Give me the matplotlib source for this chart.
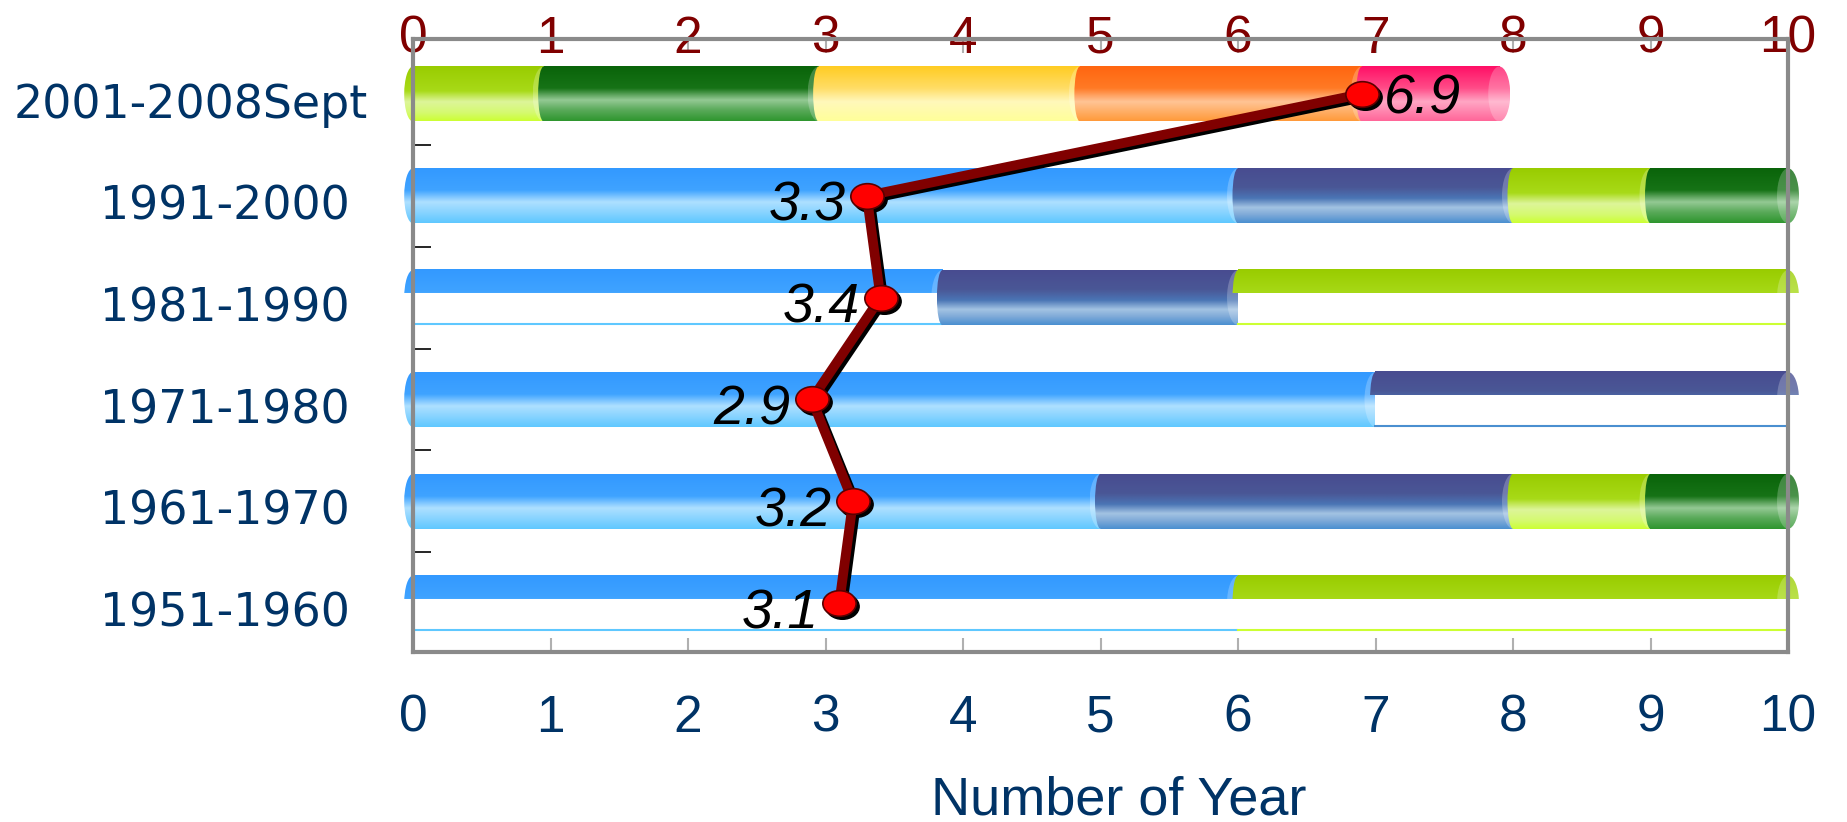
import numpy as np
import matplotlib.pyplot as plt
from matplotlib.colors import LinearSegmentedColormap
from matplotlib.patches import Ellipse, Rectangle
from matplotlib.path import Path
from matplotlib.transforms import Affine2D, ScaledTranslation, blended_transform_factory

plt.rcParams['font.family'] = ['Liberation Sans', 'DejaVu Sans']

# periods from bottom row to top row
periods = ['1951-1960', '1961-1970', '1971-1980', '1981-1990', '1991-2000', '2001-2008Sept']

# years spent in each phase, per period
years = [
    [6, 4],
    [5, 3, 1, 1],
    [7, 3],
    [3.85, 2.15, 4],
    [6, 2, 1, 1],
    [0.95, 2.0, 1.9, 2.05, 1.0],
]
phases = [
    ['blue', 'lime'],
    ['blue', 'navy', 'lime', 'green'],
    ['blue', 'navy'],
    ['blue', 'navy', 'lime'],
    ['blue', 'navy', 'lime', 'green'],
    ['lime', 'green', 'yellow', 'orange', 'pink'],
]
# pieces drawn as an open (top only) tube
open_piece = [
    [True, True],
    [False, False, False, False],
    [False, True],
    [True, False, True],
    [False, False, False, False],
    [False, False, False, False, False],
]
mean_years = [3.1, 3.2, 2.9, 3.4, 3.3, 6.9]

stops = {
    'blue':   [(0, '#3399FF'), (0.40, '#3FA3FF'), (0.62, '#AEE0FF'), (0.80, '#8AD4FF'), (1, '#5FC8FF')],
    'navy':   [(0, '#484C90'), (0.35, '#4A5796'), (0.55, '#4A75B5'), (0.72, '#A3C3E3'), (0.85, '#7FAAD8'), (1, '#4A8FD0')],
    'lime':   [(0, '#99CC00'), (0.45, '#A8DA18'), (0.65, '#DDF59A'), (0.85, '#D5FA70'), (1, '#CCFF33')],
    'green':  [(0, '#0A640A'), (0.40, '#167316'), (0.62, '#94C994'), (0.80, '#5AAA5A'), (1, '#2E962E')],
    'yellow': [(0, '#FFCC22'), (0.40, '#FFDD66'), (0.65, '#FFF8BB'), (1, '#FFFF99')],
    'orange': [(0, '#FF6610'), (0.40, '#FF7A25'), (0.65, '#FFC495'), (1, '#FF9A3A')],
    'pink':   [(0, '#FF0F66'), (0.40, '#FF4C88'), (0.65, '#FFA6C4'), (1, '#FF6699')],
}
cmaps = {k: LinearSegmentedColormap.from_list(k, v) for k, v in stops.items()}

W, H = 1847, 822
L, R, T, B = 413, 1788, 39, 652
fig = plt.figure(figsize=(W / 100, H / 100), dpi=100)
fig.patch.set_facecolor('white')

ylo, yhi = -0.48, 5.54
unit = (R - L) / 10
ext = 0.3
bx = fig.add_axes([(L - ext * unit) / W, 1 - B / H, (R - L + 2 * ext * unit) / W, (B - T) / H])
bx.axis('off')
ax = fig.add_axes([L / W, 1 - B / H, (R - L) / W, (B - T) / H])
ax.set_facecolor('none')
ax.set_zorder(2)

bar_h = 0.54
cap_w = 0.16
open_frac = 0.42
z = [1]


def column(name, f1, light=0.0):
    rgba = cmaps[name](np.linspace(0, f1, 128))
    rgba[:, :3] = rgba[:, :3] * (1 - light) + light
    return rgba[:, None, :]


def show(img, extent, clip=None):
    im = bx.imshow(img, extent=extent, aspect='auto', interpolation='bilinear', zorder=z[0])
    z[0] += 1
    if clip is not None:
        im.set_clip_path(clip)
    return im


def draw_piece(x0, x1, yc, name, flat, first):
    top = yc + bar_h / 2
    frac = open_frac if flat else 1.0
    bot = top - frac * bar_h
    img = column(name, frac)
    if flat:
        bx.add_patch(Rectangle((x0, yc - bar_h / 2), x1 - x0, bar_h * (1 - frac),
                               fc='white', ec='none', zorder=z[0]))
        z[0] += 1
        bx.plot([x0, x1], [yc - bar_h / 2 + 0.01] * 2, color=cmaps[name](1.0), lw=1.5, zorder=z[0])
        z[0] += 1
    show(img, (x0, x1, bot, top))
    wl = cap_w * 0.8 if first else cap_w * 0.5
    show(img, (x0 - wl / 2, x0, bot, top),
         Ellipse((x0, yc), wl, bar_h, transform=bx.transData))
    show(column(name, frac, light=0.22), (x1 - cap_w / 2, x1 + cap_w / 2, bot, top),
         Ellipse((x1, yc), cap_w, bar_h, transform=bx.transData))


for row, (vals, names, flats) in enumerate(zip(years, phases, open_piece)):
    start = 0.0
    for k, (v, name, flat) in enumerate(zip(vals, names, flats)):
        draw_piece(start, start + v, row, name, flat, k == 0)
        start += v

bx.set_xlim(-ext, 10 + ext)
bx.set_ylim(ylo, yhi)

# frame, ticks and labels
ax.set_xlim(0, 10)
ax.set_ylim(ylo, yhi)
for s in ax.spines.values():
    s.set_color('#8A8A8A')
    s.set_linewidth(3)
ax.set_xticks(range(11))
ax.tick_params(axis='x', direction='in', length=10, width=1.5, color='#B0B0B0',
               labelsize=37, labelcolor='#003366', pad=30)
ax.set_yticks(np.arange(0.5, 5, 1))
ax.tick_params(axis='y', direction='in', length=13, width=1.2, color='black', labelleft=False)

top = ax.secondary_xaxis('top')
top.set_xticks(range(11))
top.tick_params(axis='x', direction='in', length=10, width=1.5, color='#B0B0B0',
                labelsize=37, labelcolor='#800000', pad=-18)
top.spines['top'].set_visible(False)

ylab = blended_transform_factory(fig.transFigure, ax.transData)
for i, p in enumerate(periods):
    if len(p) > 10:
        ax.text(14 / W, i - 0.11, p, transform=ylab, ha='left', va='center',
                fontsize=33, color='#003366', family='DejaVu Sans')
    else:
        ax.text(350 / W, i - 0.11, p, transform=ylab, ha='right', va='center',
                fontsize=33, color='#003366', family='DejaVu Sans')

fig.text(1119 / W, 1 - 814 / H, 'Number of Year', ha='center', va='baseline',
         fontsize=39, color='#003366')

# mean line with shadow
rows = np.arange(len(periods))
oval = Path.unit_circle().transformed(Affine2D().scale(1.3, 1.0))
shadow = ax.transData + ScaledTranslation(0.03, -0.03, fig.dpi_scale_trans)
ax.plot(mean_years, rows, color='black', lw=7, marker=oval, ms=24, mfc='black', mec='black',
        transform=shadow, clip_on=False, zorder=5)
ax.plot(mean_years, rows, color='#800000', lw=7, marker=oval, ms=24, mfc='#FF0000',
        mec='#5A0000', mew=1.2, clip_on=False, zorder=6)

for v, r in zip(mean_years, rows):
    if v > 5:
        ax.annotate(f'{v}', (v, r), xytext=(16, -4), textcoords='offset points', ha='left',
                    va='center', fontsize=40, style='italic', zorder=7)
    else:
        ax.annotate(f'{v}', (v, r), xytext=(-15, -8), textcoords='offset points', ha='right',
                    va='center', fontsize=40, style='italic', zorder=7)

fig.savefig('out.png', dpi=100)
